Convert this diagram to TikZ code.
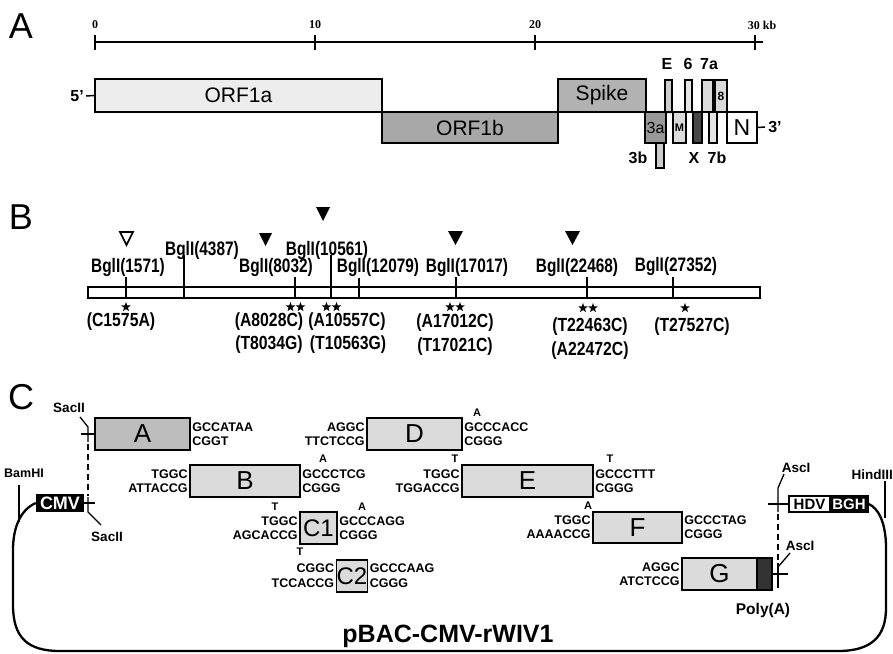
\documentclass[tikz,border=0pt]{standalone}
\usepackage{fontspec}
\setmainfont{Liberation Sans}
\newfontfamily\serifb{Liberation Serif}
\newfontfamily\bglfont[FakeStretch=0.79]{Liberation Sans}
\newfontfamily\mutfont[FakeStretch=0.83]{Liberation Sans}
\usetikzlibrary{shapes.geometric}
\definecolor{cORFa}{gray}{0.93}
\definecolor{cORFb}{gray}{0.66}
\definecolor{cSp}{gray}{0.70}
\definecolor{cThreeA}{gray}{0.60}
\definecolor{cThreeB}{gray}{0.80}
\definecolor{cE}{gray}{0.80}
\definecolor{cM}{gray}{0.86}
\definecolor{cSix}{gray}{0.90}
\definecolor{cX}{gray}{0.28}
\definecolor{cSevA}{gray}{0.86}
\definecolor{cSevB}{gray}{0.90}
\definecolor{cEight}{gray}{0.85}
\definecolor{cAbox}{gray}{0.74}
\definecolor{cLight}{gray}{0.86}
\definecolor{cPoly}{gray}{0.2}
\newcommand\rbox[7]{\node[#6, minimum width={(#4)-(#2)}, minimum height={(#5)-(#3)}] (#1) at ({((#2)+(#4))/2},{((#3)+(#5))/2}) {#7};}
\tikzset{
  panel/.style={inner sep=0, font=\fontsize{36}{36}\selectfont},
  axisline/.style={line width=1.5pt},
  scalelab/.style={inner sep=0, font=\serifb\bfseries\fontsize{12}{12}\selectfont},
  gA/.style={draw, line width=1.5pt, inner sep=0, font=\fontsize{21}{21}\selectfont},
  gS/.style={draw, line width=1.2pt, inner sep=0},
  glab/.style={inner sep=0, font=\bfseries\fontsize{16}{16}\selectfont},
  bgl/.style={inner sep=0, font=\bglfont\bfseries\fontsize{19.5}{20}\selectfont},
  mut/.style={inner sep=0, font=\mutfont\bfseries\fontsize{19}{20}\selectfont},
  tk/.style={line width=1.3pt},
  starmark/.style={star, star points=5, star point ratio=2.4, fill=black, inner sep=0, minimum size=10pt},
  cbox/.style={draw, line width=1.5pt, inner sep=0, fill=cLight, font=\fontsize{26}{26}\selectfont},
  seq/.style={inner sep=0, font=\bfseries\fontsize{12.5}{13}\selectfont},
  snp/.style={inner sep=0, font=\bfseries\fontsize{11}{11}\selectfont},
  site/.style={inner sep=0, font=\bfseries\fontsize{13.5}{14}\selectfont},
  wire/.style={line width=1.3pt},
  dashwire/.style={line width=1.3pt, dash pattern=on 6pt off 4pt},
  plasmid/.style={line width=2.3pt},
}
\begin{document}
\begin{tikzpicture}[x=1pt,y=-1pt]
\useasboundingbox (0,0) rectangle (893,653);
% ---------------- Panel A ----------------
\node[panel] (lA) at (21,26) {A};
\coordinate (s0) at (95,42);
\coordinate (s30) at (763,42);
\draw[axisline] (s0) -- (s30);
\foreach \x/\t in {95/0,315/10,535/20}{
  \draw[axisline] (\x,35) -- (\x,50);
  \node[scalelab] at (\x,25) {\t};
}
\draw[axisline] (755,35) -- (755,50);
\node[scalelab] (kb) at (762,25) {30 kb};
\rbox{orfa}{95}{79}{382}{112}{gA,fill=cORFa}{ORF1a}
\rbox{orfb}{382}{112}{558}{143}{gA,fill=cORFb}{ORF1b}
\rbox{spike}{558}{79}{646}{112}{gA,fill=cSp}{Spike}
\rbox{nn}{727}{112}{757}{143}{gA,fill=white,font=\fontsize{23}{23}\selectfont}{N}
\draw[line width=1.5pt] (spike.south east) -- (nn.north west);
\rbox{g3b}{656}{143}{664}{168}{gS,fill=cThreeB}{}
\rbox{g3a}{645}{112}{666}{143}{gS,fill=cThreeA,font=\fontsize{16}{16}\selectfont}{3a}
\rbox{gE}{665}{80}{672}{112}{gS,fill=cE}{}
\rbox{gM}{673}{112}{686}{143}{gS,fill=cM,font=\bfseries\fontsize{11}{11}\selectfont}{M}
\rbox{g6}{685}{80}{692}{112}{gS,fill=cSix}{}
\rbox{gX}{693}{112}{702}{143}{gS,fill=cX}{}
\rbox{g7a}{702}{80}{713}{112}{gS,fill=cSevA}{}
\rbox{g7b}{709}{112}{717}{143}{gS,fill=cSevB}{}
\rbox{g8}{715}{80}{727}{112}{gS,fill=cEight,font=\bfseries\fontsize{12}{12}\selectfont}{8}
\node[glab,anchor=east] (five) at (84,96) {5'};
\draw[line width=1.5pt] (86,96) -- (orfa.west);
\coordinate (threeEnd) at (765,127);
\draw[line width=1.5pt] (nn.east) -- (threeEnd);
\node[glab] (three) at (775,127) {3'};
\node[glab] (lE) at (667,64) {E};
\node[glab] (l6) at (688,64) {6};
\node[glab] (l7a) at (709,64) {7a};
\node[glab] (l3b) at (638,158) {3b};
\node[glab] (lX) at (694,158) {X};
\node[glab] (l7b) at (717,158) {7b};
% ---------------- Panel B ----------------
\node[panel] (lB) at (21,217) {B};
\rbox{bar}{88}{287}{760}{298}{draw,line width=1.5pt,fill=white,inner sep=0}{}
\foreach \x/\y in {126/277,184/255,295/277,331/255,359/278,456/277,587/277,673/277}{
  \draw[tk] (\x,\y) -- (\x,298);
}
\node[bgl] (b1) at (128,267) {BglI(1571)};
\node[bgl] (b2) at (202,250) {BglI(4387)};
\node[bgl] (b3) at (276,267) {BglI(8032)};
\node[bgl] (b4) at (327,250) {BglI(10561)};
\node[bgl] (b5) at (378,267) {BglI(12079)};
\node[bgl] (b6) at (467,267) {BglI(17017)};
\node[bgl] (b7) at (577,267) {BglI(22468)};
\node[bgl] (b8) at (676,266) {BglI(27352)};
\draw[line width=1.6pt, line join=miter] (120,232) -- (133,232) -- (126.5,245) -- cycle;
\fill (259,233) -- (272,233) -- (265.5,246) -- cycle;
\fill (316,207) -- (330,207) -- (323,221) -- cycle;
\fill (448,231) -- (463,231) -- (455.5,245) -- cycle;
\fill (565,231) -- (580,231) -- (572.5,245) -- cycle;
\node[starmark] (st1) at (126,307) {};
\node[starmark] (st2a) at (290.5,307) {};
\node[starmark] (st2b) at (300.5,307) {};
\node[starmark] (st3a) at (326.5,307) {};
\node[starmark] (st3b) at (336.5,307) {};
\node[starmark] (st4a) at (450,307) {};
\node[starmark] (st4b) at (460,307) {};
\node[starmark] (st5a) at (583,308) {};
\node[starmark] (st5b) at (593,308) {};
\node[starmark] (st6) at (685,308) {};
\node[mut] (m1) at (121,322) {(C1575A)};
\node[mut] (m2) at (269,322) {(A8028C)};
\node[mut] (m3) at (269,345) {(T8034G)};
\node[mut] (m4) at (347,322) {(A10557C)};
\node[mut] (m5) at (348,345) {(T10563G)};
\node[mut] (m6) at (455,323) {(A17012C)};
\node[mut] (m7) at (455,347) {(T17021C)};
\node[mut] (m8) at (590,327) {(T22463C)};
\node[mut] (m9) at (590,351) {(A22472C)};
\node[mut] (m10) at (692,327) {(T27527C)};
% ---------------- Panel C ----------------
\node[panel] (lC) at (21,397) {C};
\rbox{bA}{95}{418}{190}{450}{cbox,fill=cAbox}{A}
\rbox{bB}{190}{465}{300}{497}{cbox}{B}
\rbox{bD}{367}{418}{462}{450}{cbox}{D}
\rbox{bE}{462}{465}{593}{497}{cbox}{E}
\rbox{bC1}{300}{512}{337}{544}{cbox,font=\fontsize{24}{24}\selectfont}{C1}
\rbox{bC2}{337}{560}{367}{592}{cbox,font=\fontsize{24}{24}\selectfont}{C2}
\rbox{bF}{593}{512}{682}{543}{cbox}{F}
\rbox{bG}{682}{558}{757}{590}{cbox}{G}
\rbox{bPA}{757}{558}{772}{590}{draw,line width=1.5pt,fill=cPoly,inner sep=0}{}
% sequences
\node[seq,anchor=west] at ([shift={(1.5,-7)}]bA.east) {GCCATAA};
\node[seq,anchor=west] at ([shift={(1.5,7)}]bA.east) {CGGT};
\node[seq,anchor=east] at ([shift={(-1.5,-7)}]bB.west) {TGGC};
\node[seq,anchor=east] at ([shift={(-1.5,7)}]bB.west) {ATTACCG};
\node[seq,anchor=west] at ([shift={(1.5,-7)}]bB.east) {GCCCTCG};
\node[seq,anchor=west] at ([shift={(1.5,7)}]bB.east) {CGGG};
\node[snp] at (323,459) {A};
\node[seq,anchor=east] at ([shift={(-1.5,-7)}]bD.west) {AGGC};
\node[seq,anchor=east] at ([shift={(-1.5,7)}]bD.west) {TTCTCCG};
\node[seq,anchor=west] at ([shift={(1.5,-7)}]bD.east) {GCCCACC};
\node[seq,anchor=west] at ([shift={(1.5,7)}]bD.east) {CGGG};
\node[snp] at (477,413) {A};
\node[seq,anchor=east] at ([shift={(-1.5,-7)}]bE.west) {TGGC};
\node[seq,anchor=east] at ([shift={(-1.5,7)}]bE.west) {TGGACCG};
\node[snp] at (455,459) {T};
\node[seq,anchor=west] at ([shift={(1.5,-7)}]bE.east) {GCCCTTT};
\node[seq,anchor=west] at ([shift={(1.5,7)}]bE.east) {CGGG};
\node[snp] at (610,459) {T};
\node[seq,anchor=east] at ([shift={(-1.5,-7)}]bC1.west) {TGGC};
\node[seq,anchor=east] at ([shift={(-1.5,7)}]bC1.west) {AGCACCG};
\node[snp] at (275,507) {T};
\node[seq,anchor=west] at ([shift={(1.5,-7)}]bC1.east) {GCCCAGG};
\node[seq,anchor=west] at ([shift={(1.5,7)}]bC1.east) {CGGG};
\node[snp] at (362,507) {A};
\node[seq,anchor=east] at ([shift={(-1.5,-8)}]bC2.west) {CGGC};
\node[seq,anchor=east] at ([shift={(-1.5,7)}]bC2.west) {TCCACCG};
\node[snp] at (300,552) {T};
\node[seq,anchor=west] at ([shift={(1.5,-8)}]bC2.east) {GCCCAAG};
\node[seq,anchor=west] at ([shift={(1.5,7)}]bC2.east) {CGGG};
\node[seq,anchor=east] at ([shift={(-1.5,-7)}]bF.west) {TGGC};
\node[seq,anchor=east] at ([shift={(-1.5,7)}]bF.west) {AAAACCG};
\node[snp] at (588,506) {A};
\node[seq,anchor=west] at ([shift={(1.5,-7)}]bF.east) {GCCCTAG};
\node[seq,anchor=west] at ([shift={(1.5,7)}]bF.east) {CGGG};
\node[seq,anchor=east] at ([shift={(-1.5,-7)}]bG.west) {AGGC};
\node[seq,anchor=east] at ([shift={(-1.5,7)}]bG.west) {ATCTCCG};
\node[site] (polyA) at (763,610) {\fontsize{15.5}{16}\selectfont Poly(A)};
% CMV and left sites
\rbox{cmv}{36}{494}{84}{512}{fill=black,text=white,inner sep=0,font=\bfseries\fontsize{18}{18}\selectfont}{CMV}
\node[site] (sacTop) at (69,408) {SacII};
\node[site] (sacBot) at (107,537) {SacII};
\node[site,font=\bfseries\fontsize{12.5}{13}\selectfont] (bam) at (24,473) {BamHI};
\coordinate (sacA) at (88,433);
\coordinate (sacB) at (88,503);
\draw[wire] (80,417) -- (88,427) -- (88,442);
\draw[wire] ([xshift=-13pt]bA.west) -- (bA.west);
\draw[dashwire] (88,444) -- (88,496);
\draw[wire] (cmv.east) -- ++(11,0);
\draw[wire] (88,497) -- (88,512) -- (101,525);
\coordinate (bamEnd) at (19,522);
\draw[wire] (19,485) -- (bamEnd);
% right side
\rbox{hdv}{789}{496}{830}{512}{draw,line width=1.5pt,fill=white,inner sep=0,font=\bfseries\fontsize{15}{15}\selectfont}{HDV}
\rbox{bgh}{830}{496}{868}{512}{draw,line width=1.5pt,fill=black,text=white,inner sep=0,font=\bfseries\fontsize{15}{15}\selectfont}{BGH}
\node[site] (ascTop) at (796,468) {AscI};
\node[site] (ascBot) at (800,546) {AscI};
\node[site,anchor=east] (hind) at (893,475) {HindIII};
\draw[wire] (784,474) -- (778,488) -- (778,512);
\draw[wire] (768,504) -- (hdv.west);
\draw[dashwire] (778,514) -- (778,563);
\draw[wire] (790,553) -- (778,567);
\draw[wire] (778,563) -- (778,588);
\draw[wire] (bPA.east) -- ++(15,0);
\coordinate (hindEnd) at (885,518);
\draw[wire] (885,481) -- (hindEnd);
% plasmid backbone
\draw[plasmid] (cmv.west) .. controls (20,510) and (13,528) .. (13,550) -- (13,605)
  .. controls (13,638) and (28,651) .. (60,651) -- (838,651)
  .. controls (872,651) and (886,636) .. (886,608) -- (886,548)
  .. controls (886,522) and (878,508) .. (bgh.east);
\node[inner sep=0,font=\bfseries\fontsize{25}{25}\selectfont] (title) at (448,636) {pBAC-CMV-rWIV1};
\end{tikzpicture}
\end{document}
